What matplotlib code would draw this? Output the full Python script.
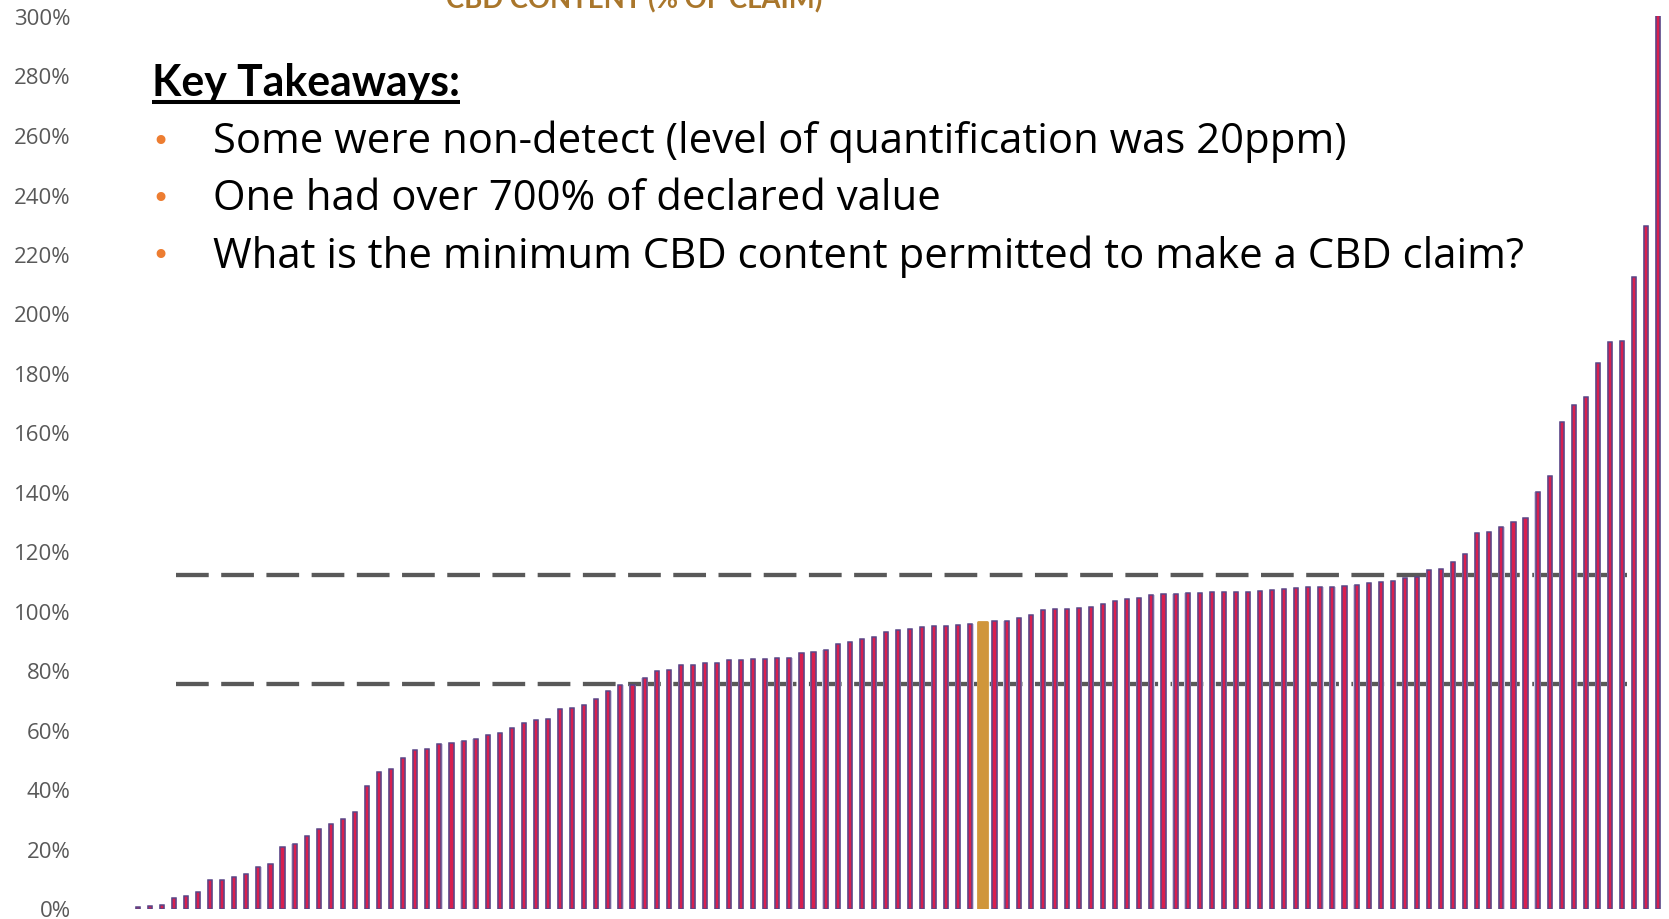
import matplotlib
matplotlib.use('Agg')
import matplotlib.pyplot as plt
from matplotlib.lines import Line2D
import numpy as np

# CBD content as % of label claim, sorted ascending (last one is >700%, clipped at 300%)
cbd_pct = [
    0.4, 1.0, 1.1, 3.6, 4.1, 5.7, 9.6, 9.7, 10.7, 11.5, 14.0, 15.1, 20.8, 21.8, 24.4, 26.7,
    28.3, 30.1, 32.3, 41.1, 46.0, 46.8,
    50.6, 53.3, 53.6, 55.3, 55.6, 56.2, 57.0, 58.3, 58.9, 60.6, 62.4, 63.5, 63.6, 67.0, 67.4,
    68.3, 70.4, 73.0, 75.0, 75.2, 77.6, 79.8, 80.3, 81.9, 81.9,
    82.4, 82.6, 83.4, 83.5, 84.0, 84.0, 84.1, 84.2, 85.8, 86.3, 87.0, 88.9, 89.5, 90.7, 91.3,
    92.9, 93.6, 94.0, 94.6, 94.9, 95.0, 95.2, 95.6,
    96.3,
    96.6, 96.7, 97.7, 98.5, 100.3, 100.7, 100.7, 101.0, 101.4, 102.5, 103.2, 104.0, 104.3,
    105.5, 105.6, 105.6, 105.9, 106.0, 106.3, 106.5, 106.5, 106.5, 106.6, 107.1,
    107.3, 107.7, 108.0, 108.1, 108.2, 108.5, 108.8, 109.4, 109.6, 110.1, 111.0, 111.5, 113.8,
    114.0, 116.4, 119.0, 126.3, 126.5, 128.4, 129.8, 131.3, 140.0, 145.4, 163.4, 169.2, 172.1,
    183.3, 190.4, 190.6, 212.3, 229.3, 720.0,
]
highlight_idx = 70
limits = [75.3, 112.1]
y_ticks = list(range(0, 301, 20))
y_labels = [f"{t}%" for t in y_ticks]

title_text = "CBD CONTENT (% OF CLAIM)"
heading = "Key Takeaways:"
bullets = [
    "Some were non-detect (level of quantification was 20ppm)",
    "One had over 700% of declared value",
    "What is the minimum CBD content permitted to make a CBD claim?",
]

W, H = 1669, 920
fig = plt.figure(figsize=(W / 100, H / 100), dpi=100)
ax = fig.add_axes([131.7 / W, 10.5 / H, 1532.6 / W, 892.5 / H])

x = np.arange(len(cbd_pct))
normal = [i for i in x if i != highlight_idx]
vals = np.array(cbd_pct)

# soft halo, then the bars themselves
ax.bar(normal, vals[normal], width=0.52, color='#d4cde4', zorder=2)
ax.bar(normal, vals[normal], width=0.34, color='#d81f4f', edgecolor='#5a4586',
       linewidth=1.1, zorder=3)
ax.bar([highlight_idx], [vals[highlight_idx]], width=0.7, color='#d0963b',
       edgecolor='#d0963b', linewidth=2.0, joinstyle='round', zorder=4)

# acceptable range lines
for v in limits:
    ax.plot([3.2, 123.4], [v, v], color='#595959', lw=3.1, dashes=(7.6, 2.9),
            solid_capstyle='butt', dash_capstyle='butt', zorder=1)

ax.set_xlim(-0.5, len(cbd_pct) - 0.5)
ax.set_ylim(0, 300)
ax.set_yticks(y_ticks)
ax.set_yticklabels(y_labels, family='Open Sans', fontsize=16, color='#595959')
ax.tick_params(axis='y', length=0, pad=44)
ax.set_xticks([])
for s in ax.spines.values():
    s.set_visible(False)

# chart title, cut off by the top edge as in the slide
fig.text(634 / W, 1 - 8 / H, title_text, ha='center', va='baseline', fontsize=19.8,
         fontweight='bold', color='#a9762b', family='Lato')

# takeaways text
ht = fig.text(152 / W, 1 - 96 / H, heading, ha='left', va='baseline', fontsize=30.8,
              fontweight='bold', family='Lato', color='black')
fig.canvas.draw()
bb = ht.get_window_extent()
fig.add_artist(Line2D([bb.x0 / W, bb.x1 / W], [(H - 103) / H, (H - 103) / H],
                      color='black', lw=2.9, solid_capstyle='butt'))

for i, txt in enumerate(bullets):
    yc = 1 - (142 + 57.5 * i) / H
    fig.text(160 / W, yc, '\u2022', ha='center', va='center', fontsize=22,
             color='#ed7d31', family='DejaVu Sans')
    fig.text(213 / W, yc, txt, ha='left', va='center', fontsize=30.2,
             family='Open Sans', color='black')

fig.savefig('out.png', dpi=100)
